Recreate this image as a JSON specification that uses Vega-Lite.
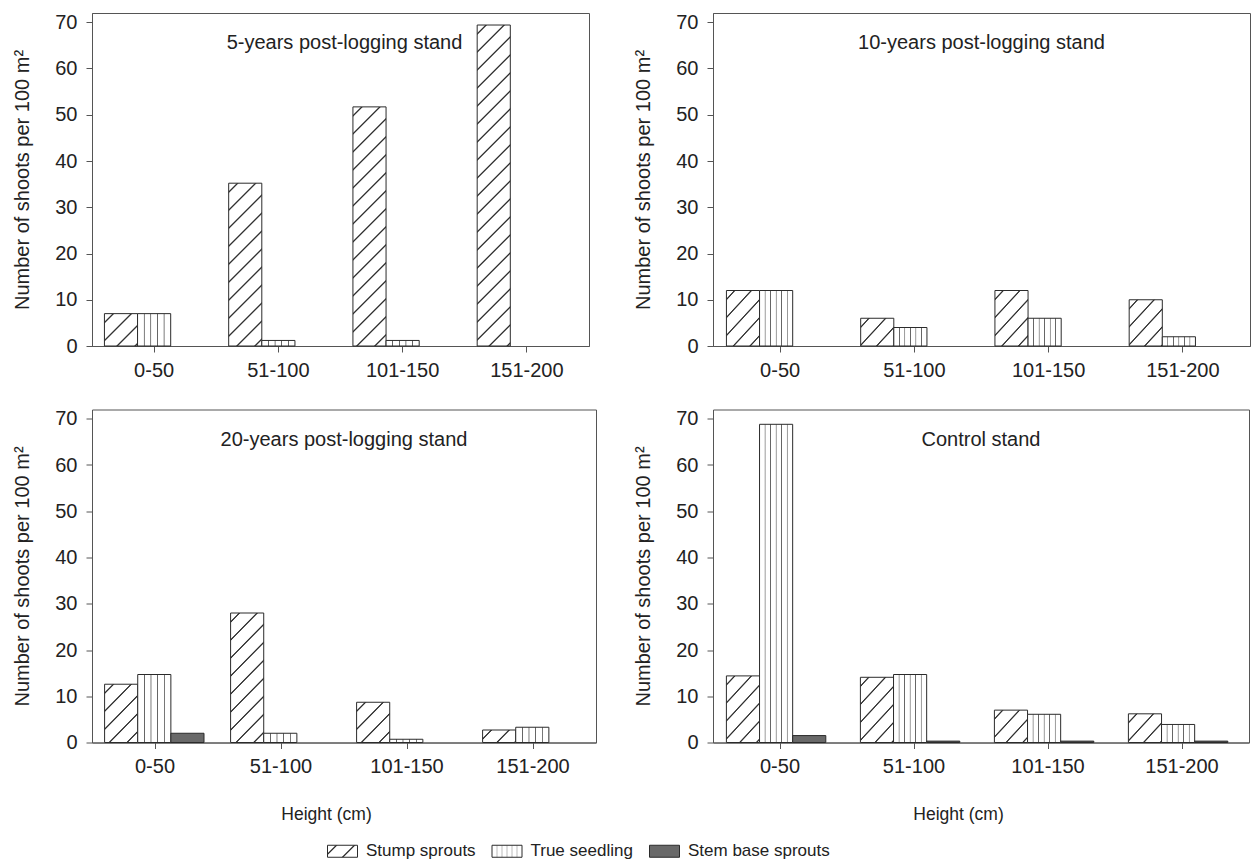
{
  "$schema": "https://vega.github.io/schema/vega-lite/v6.json",
  "padding": {"left": 12, "top": 11, "right": 0, "bottom": 0},
  "autosize": {"type": "pad"},
  "background": "white",
  "params": [
    {"name": "diagStops", "value": [
      {"offset": 0, "color": "#ffffff"},
      {"offset": 0.01875, "color": "#ffffff"}, {"offset": 0.0215, "color": "#333333"}, {"offset": 0.0235, "color": "#333333"}, {"offset": 0.02625, "color": "#ffffff"},
      {"offset": 0.06375, "color": "#ffffff"}, {"offset": 0.0665, "color": "#333333"}, {"offset": 0.0685, "color": "#333333"}, {"offset": 0.07125, "color": "#ffffff"},
      {"offset": 0.10875, "color": "#ffffff"}, {"offset": 0.1115, "color": "#333333"}, {"offset": 0.1135, "color": "#333333"}, {"offset": 0.11625, "color": "#ffffff"},
      {"offset": 0.15375, "color": "#ffffff"}, {"offset": 0.1565, "color": "#333333"}, {"offset": 0.1585, "color": "#333333"}, {"offset": 0.16125, "color": "#ffffff"},
      {"offset": 0.19875, "color": "#ffffff"}, {"offset": 0.2015, "color": "#333333"}, {"offset": 0.2035, "color": "#333333"}, {"offset": 0.20625, "color": "#ffffff"},
      {"offset": 0.24375, "color": "#ffffff"}, {"offset": 0.2465, "color": "#333333"}, {"offset": 0.2485, "color": "#333333"}, {"offset": 0.25125, "color": "#ffffff"},
      {"offset": 0.28875, "color": "#ffffff"}, {"offset": 0.2915, "color": "#333333"}, {"offset": 0.2935, "color": "#333333"}, {"offset": 0.29625, "color": "#ffffff"},
      {"offset": 0.33375, "color": "#ffffff"}, {"offset": 0.3365, "color": "#333333"}, {"offset": 0.3385, "color": "#333333"}, {"offset": 0.34125, "color": "#ffffff"},
      {"offset": 0.37875, "color": "#ffffff"}, {"offset": 0.3815, "color": "#333333"}, {"offset": 0.3835, "color": "#333333"}, {"offset": 0.38625, "color": "#ffffff"},
      {"offset": 0.42375, "color": "#ffffff"}, {"offset": 0.4265, "color": "#333333"}, {"offset": 0.4285, "color": "#333333"}, {"offset": 0.43125, "color": "#ffffff"},
      {"offset": 0.46875, "color": "#ffffff"}, {"offset": 0.4715, "color": "#333333"}, {"offset": 0.4735, "color": "#333333"}, {"offset": 0.47625, "color": "#ffffff"},
      {"offset": 0.51375, "color": "#ffffff"}, {"offset": 0.5165, "color": "#333333"}, {"offset": 0.5185, "color": "#333333"}, {"offset": 0.52125, "color": "#ffffff"},
      {"offset": 0.55875, "color": "#ffffff"}, {"offset": 0.5615, "color": "#333333"}, {"offset": 0.5635, "color": "#333333"}, {"offset": 0.56625, "color": "#ffffff"},
      {"offset": 0.60375, "color": "#ffffff"}, {"offset": 0.6065, "color": "#333333"}, {"offset": 0.6085, "color": "#333333"}, {"offset": 0.61125, "color": "#ffffff"},
      {"offset": 0.64875, "color": "#ffffff"}, {"offset": 0.6515, "color": "#333333"}, {"offset": 0.6535, "color": "#333333"}, {"offset": 0.65625, "color": "#ffffff"},
      {"offset": 0.69375, "color": "#ffffff"}, {"offset": 0.6965, "color": "#333333"}, {"offset": 0.6985, "color": "#333333"}, {"offset": 0.70125, "color": "#ffffff"},
      {"offset": 0.73875, "color": "#ffffff"}, {"offset": 0.7415, "color": "#333333"}, {"offset": 0.7435, "color": "#333333"}, {"offset": 0.74625, "color": "#ffffff"},
      {"offset": 0.78375, "color": "#ffffff"}, {"offset": 0.7865, "color": "#333333"}, {"offset": 0.7885, "color": "#333333"}, {"offset": 0.79125, "color": "#ffffff"},
      {"offset": 0.82875, "color": "#ffffff"}, {"offset": 0.8315, "color": "#333333"}, {"offset": 0.8335, "color": "#333333"}, {"offset": 0.83625, "color": "#ffffff"},
      {"offset": 0.87375, "color": "#ffffff"}, {"offset": 0.8765, "color": "#333333"}, {"offset": 0.8785, "color": "#333333"}, {"offset": 0.88125, "color": "#ffffff"},
      {"offset": 0.91875, "color": "#ffffff"}, {"offset": 0.9215, "color": "#333333"}, {"offset": 0.9235, "color": "#333333"}, {"offset": 0.92625, "color": "#ffffff"},
      {"offset": 0.96375, "color": "#ffffff"}, {"offset": 0.9665, "color": "#333333"}, {"offset": 0.9685, "color": "#333333"}, {"offset": 0.97125, "color": "#ffffff"},
      {"offset": 1, "color": "#ffffff"}
    ]},
    {"name": "v5", "value": [
      {"offset": 0, "color": "#ffffff"},
      {"offset": 0.178, "color": "#ffffff"}, {"offset": 0.194, "color": "#666666"}, {"offset": 0.206, "color": "#666666"}, {"offset": 0.222, "color": "#ffffff"},
      {"offset": 0.378, "color": "#ffffff"}, {"offset": 0.394, "color": "#666666"}, {"offset": 0.406, "color": "#666666"}, {"offset": 0.422, "color": "#ffffff"},
      {"offset": 0.578, "color": "#ffffff"}, {"offset": 0.594, "color": "#666666"}, {"offset": 0.606, "color": "#666666"}, {"offset": 0.622, "color": "#ffffff"},
      {"offset": 0.778, "color": "#ffffff"}, {"offset": 0.794, "color": "#666666"}, {"offset": 0.806, "color": "#666666"}, {"offset": 0.822, "color": "#ffffff"},
      {"offset": 1, "color": "#ffffff"}
    ]},
    {"name": "v6", "value": [
      {"offset": 0, "color": "#ffffff"},
      {"offset": 0.1467, "color": "#ffffff"}, {"offset": 0.1617, "color": "#666666"}, {"offset": 0.1717, "color": "#666666"}, {"offset": 0.1867, "color": "#ffffff"},
      {"offset": 0.3133, "color": "#ffffff"}, {"offset": 0.3283, "color": "#666666"}, {"offset": 0.3383, "color": "#666666"}, {"offset": 0.3533, "color": "#ffffff"},
      {"offset": 0.48, "color": "#ffffff"}, {"offset": 0.495, "color": "#666666"}, {"offset": 0.505, "color": "#666666"}, {"offset": 0.52, "color": "#ffffff"},
      {"offset": 0.6467, "color": "#ffffff"}, {"offset": 0.6617, "color": "#666666"}, {"offset": 0.6717, "color": "#666666"}, {"offset": 0.6867, "color": "#ffffff"},
      {"offset": 0.8133, "color": "#ffffff"}, {"offset": 0.8283, "color": "#666666"}, {"offset": 0.8383, "color": "#666666"}, {"offset": 0.8533, "color": "#ffffff"},
      {"offset": 1, "color": "#ffffff"}
    ]}
  ],
  "data": {"values": [
    {"panel": "TL", "height": "0-50", "series": "Stump sprouts", "value": 7.0},
    {"panel": "TL", "height": "0-50", "series": "True seedling", "value": 7.0},
    {"panel": "TL", "height": "51-100", "series": "Stump sprouts", "value": 35.2},
    {"panel": "TL", "height": "51-100", "series": "True seedling", "value": 1.2},
    {"panel": "TL", "height": "101-150", "series": "Stump sprouts", "value": 51.7},
    {"panel": "TL", "height": "101-150", "series": "True seedling", "value": 1.2},
    {"panel": "TL", "height": "151-200", "series": "Stump sprouts", "value": 69.4},
    {"panel": "TR", "height": "0-50", "series": "Stump sprouts", "value": 12.0},
    {"panel": "TR", "height": "0-50", "series": "True seedling", "value": 12.0},
    {"panel": "TR", "height": "51-100", "series": "Stump sprouts", "value": 6.0},
    {"panel": "TR", "height": "51-100", "series": "True seedling", "value": 4.0},
    {"panel": "TR", "height": "101-150", "series": "Stump sprouts", "value": 12.0},
    {"panel": "TR", "height": "101-150", "series": "True seedling", "value": 6.0},
    {"panel": "TR", "height": "151-200", "series": "Stump sprouts", "value": 10.0},
    {"panel": "TR", "height": "151-200", "series": "True seedling", "value": 2.0},
    {"panel": "BL", "height": "0-50", "series": "Stump sprouts", "value": 12.6},
    {"panel": "BL", "height": "0-50", "series": "True seedling", "value": 14.7},
    {"panel": "BL", "height": "0-50", "series": "Stem base sprouts", "value": 2.0},
    {"panel": "BL", "height": "51-100", "series": "Stump sprouts", "value": 28.0},
    {"panel": "BL", "height": "51-100", "series": "True seedling", "value": 2.0},
    {"panel": "BL", "height": "101-150", "series": "Stump sprouts", "value": 8.7},
    {"panel": "BL", "height": "101-150", "series": "True seedling", "value": 0.7},
    {"panel": "BL", "height": "151-200", "series": "Stump sprouts", "value": 2.7},
    {"panel": "BL", "height": "151-200", "series": "True seedling", "value": 3.3},
    {"panel": "BR", "height": "0-50", "series": "Stump sprouts", "value": 14.4},
    {"panel": "BR", "height": "0-50", "series": "True seedling", "value": 68.8},
    {"panel": "BR", "height": "0-50", "series": "Stem base sprouts", "value": 1.5},
    {"panel": "BR", "height": "51-100", "series": "Stump sprouts", "value": 14.1},
    {"panel": "BR", "height": "51-100", "series": "True seedling", "value": 14.7},
    {"panel": "BR", "height": "51-100", "series": "Stem base sprouts", "value": 0.3},
    {"panel": "BR", "height": "101-150", "series": "Stump sprouts", "value": 7.0},
    {"panel": "BR", "height": "101-150", "series": "True seedling", "value": 6.1},
    {"panel": "BR", "height": "101-150", "series": "Stem base sprouts", "value": 0.3},
    {"panel": "BR", "height": "151-200", "series": "Stump sprouts", "value": 6.2},
    {"panel": "BR", "height": "151-200", "series": "True seedling", "value": 3.9},
    {"panel": "BR", "height": "151-200", "series": "Stem base sprouts", "value": 0.3}
  ]},
  "config": {
    "font": "Liberation Sans",
    "view": {"stroke": "#555555", "strokeWidth": 1},
    "axis": {"domainColor": "#555555", "tickColor": "#555555", "labelColor": "#222222", "titleColor": "#222222", "labelFont": "Liberation Sans", "titleFont": "Liberation Sans", "labelFontSize": 20, "titleFontSize": 20, "titleFontWeight": "normal", "tickSize": 6, "grid": false},
    "axisY": {"labelPadding": 9, "titlePadding": 22},
    "axisX": {"labelPadding": 8, "labelAngle": 0, "titleFontSize": 17.5, "titlePadding": 29},
    "title": {"fontWeight": "normal", "fontSize": 20, "color": "#222222", "font": "Liberation Sans"}
  },
  "spacing": 26.5,
  "vconcat": [
    {
      "spacing": 43,
      "hconcat": [
        {
          "width": 497, "height": 333,
          "title": {"text": "5-years post-logging stand", "anchor": "middle", "frame": "group", "offset": -57, "baseline": "alphabetic", "dx": 4},
          "transform": [{"filter": "datum.panel === 'TL'"}],
          "mark": {"type": "bar", "strokeWidth": 1, "fill": {"expr": "datum.series === 'Stump sprouts' ? {gradient: 'linear', x1: 0, y1: 0, x2: 400*33.13/(33.13*33.13 + pow(datum.value*4.625, 2)), y2: 400*datum.value*4.625/(33.13*33.13 + pow(datum.value*4.625, 2)), stops: diagStops} : datum.series === 'True seedling' ? {gradient: 'linear', x1: 0, y1: 0, x2: 1, y2: 0, stops: v5} : '#696969'"}},
          "encoding": {
            "x": {"field": "height", "type": "nominal", "sort": ["0-50", "51-100", "101-150", "151-200"], "scale": {"paddingInner": 0.2, "paddingOuter": 0.1}, "axis": {"title": null}},
            "xOffset": {"field": "series", "type": "nominal", "scale": {"domain": ["Stump sprouts", "True seedling", "Stem base sprouts"], "paddingInner": 0, "paddingOuter": 0}},
            "y": {"field": "value", "type": "quantitative", "scale": {"domain": [0, 72], "nice": false}, "axis": {"title": "Number of shoots per 100 m²", "values": [0, 10, 20, 30, 40, 50, 60, 70]}},
            "stroke": {"field": "series", "type": "nominal", "scale": {"domain": ["Stump sprouts", "True seedling", "Stem base sprouts"], "range": ["#2b2b2b", "#2b2b2b", "#2b2b2b"]},
              "legend": {"orient": "none", "legendX": 235, "legendY": 822.5, "direction": "horizontal", "title": null, "symbolType": "M-1,-0.4H1V0.4H-1Z", "symbolSize": 900, "symbolStrokeWidth": 1, "labelFontSize": 17, "labelFont": "Liberation Sans", "labelColor": "#222222", "labelOffset": 8, "columnPadding": 13.5, "padding": 0,
                "encoding": {"symbols": {"fill": {"value": {"expr": "datum.value === 'Stump sprouts' ? {gradient: 'linear', x1: 0, y1: 0, x2: 11.494, y2: 4.598, stops: diagStops} : datum.value === 'True seedling' ? {gradient: 'linear', x1: 0, y1: 0, x2: 1, y2: 0, stops: v6} : '#696969'"}}, "stroke": {"value": "#2b2b2b"}, "opacity": {"value": 1}}}}}
          }
        },
        {
          "width": 537, "height": 333,
          "title": {"text": "10-years post-logging stand", "anchor": "middle", "frame": "group", "offset": -57, "baseline": "alphabetic"},
          "transform": [{"filter": "datum.panel === 'TR'"}],
          "mark": {"type": "bar", "strokeWidth": 1, "fill": {"expr": "datum.series === 'Stump sprouts' ? {gradient: 'linear', x1: 0, y1: 0, x2: 400*35.8/(35.8*35.8 + pow(datum.value*4.625, 2)), y2: 400*datum.value*4.625/(35.8*35.8 + pow(datum.value*4.625, 2)), stops: diagStops} : datum.series === 'True seedling' ? {gradient: 'linear', x1: 0, y1: 0, x2: 1, y2: 0, stops: v6} : '#696969'"}},
          "encoding": {
            "x": {"field": "height", "type": "nominal", "sort": ["0-50", "51-100", "101-150", "151-200"], "scale": {"paddingInner": 0.2, "paddingOuter": 0.1}, "axis": {"title": null}},
            "xOffset": {"field": "series", "type": "nominal", "scale": {"domain": ["Stump sprouts", "True seedling", "Stem base sprouts"], "paddingInner": 0, "paddingOuter": 0}},
            "y": {"field": "value", "type": "quantitative", "scale": {"domain": [0, 72], "nice": false}, "axis": {"title": "Number of shoots per 100 m²", "values": [0, 10, 20, 30, 40, 50, 60, 70]}},
            "stroke": {"field": "series", "type": "nominal", "scale": {"domain": ["Stump sprouts", "True seedling", "Stem base sprouts"], "range": ["#2b2b2b", "#2b2b2b", "#2b2b2b"]},
              "legend": {"orient": "none", "legendX": 235, "legendY": 822.5, "direction": "horizontal", "title": null, "symbolType": "M-1,-0.4H1V0.4H-1Z", "symbolSize": 900, "symbolStrokeWidth": 1, "labelFontSize": 17, "labelFont": "Liberation Sans", "labelColor": "#222222", "labelOffset": 8, "columnPadding": 13.5, "padding": 0,
                "encoding": {"symbols": {"fill": {"value": {"expr": "datum.value === 'Stump sprouts' ? {gradient: 'linear', x1: 0, y1: 0, x2: 11.494, y2: 4.598, stops: diagStops} : datum.value === 'True seedling' ? {gradient: 'linear', x1: 0, y1: 0, x2: 1, y2: 0, stops: v6} : '#696969'"}}, "stroke": {"value": "#2b2b2b"}, "opacity": {"value": 1}}}}}
          }
        }
      ]
    },
    {
      "spacing": 36,
      "hconcat": [
        {
          "width": 504, "height": 333,
          "title": {"text": "20-years post-logging stand", "anchor": "middle", "frame": "group", "offset": -57, "baseline": "alphabetic"},
          "transform": [{"filter": "datum.panel === 'BL'"}],
          "mark": {"type": "bar", "strokeWidth": 1, "fill": {"expr": "datum.series === 'Stump sprouts' ? {gradient: 'linear', x1: 0, y1: 0, x2: 400*33.6/(33.6*33.6 + pow(datum.value*4.625, 2)), y2: 400*datum.value*4.625/(33.6*33.6 + pow(datum.value*4.625, 2)), stops: diagStops} : datum.series === 'True seedling' ? {gradient: 'linear', x1: 0, y1: 0, x2: 1, y2: 0, stops: v5} : '#696969'"}},
          "encoding": {
            "x": {"field": "height", "type": "nominal", "sort": ["0-50", "51-100", "101-150", "151-200"], "scale": {"paddingInner": 0.2, "paddingOuter": 0.1}, "axis": {"title": "Height (cm)", "titleX": 234}},
            "xOffset": {"field": "series", "type": "nominal", "scale": {"domain": ["Stump sprouts", "True seedling", "Stem base sprouts"], "paddingInner": 0, "paddingOuter": 0}},
            "y": {"field": "value", "type": "quantitative", "scale": {"domain": [0, 72], "nice": false}, "axis": {"title": "Number of shoots per 100 m²", "values": [0, 10, 20, 30, 40, 50, 60, 70]}},
            "stroke": {"field": "series", "type": "nominal", "scale": {"domain": ["Stump sprouts", "True seedling", "Stem base sprouts"], "range": ["#2b2b2b", "#2b2b2b", "#2b2b2b"]},
              "legend": {"orient": "none", "legendX": 235, "legendY": 822.5, "direction": "horizontal", "title": null, "symbolType": "M-1,-0.4H1V0.4H-1Z", "symbolSize": 900, "symbolStrokeWidth": 1, "labelFontSize": 17, "labelFont": "Liberation Sans", "labelColor": "#222222", "labelOffset": 8, "columnPadding": 13.5, "padding": 0,
                "encoding": {"symbols": {"fill": {"value": {"expr": "datum.value === 'Stump sprouts' ? {gradient: 'linear', x1: 0, y1: 0, x2: 11.494, y2: 4.598, stops: diagStops} : datum.value === 'True seedling' ? {gradient: 'linear', x1: 0, y1: 0, x2: 1, y2: 0, stops: v6} : '#696969'"}}, "stroke": {"value": "#2b2b2b"}, "opacity": {"value": 1}}}}}
          }
        },
        {
          "width": 536, "height": 333,
          "title": {"text": "Control stand", "anchor": "middle", "frame": "group", "offset": -57, "baseline": "alphabetic"},
          "transform": [{"filter": "datum.panel === 'BR'"}],
          "mark": {"type": "bar", "strokeWidth": 1, "fill": {"expr": "datum.series === 'Stump sprouts' ? {gradient: 'linear', x1: 0, y1: 0, x2: 400*35.73/(35.73*35.73 + pow(datum.value*4.625, 2)), y2: 400*datum.value*4.625/(35.73*35.73 + pow(datum.value*4.625, 2)), stops: diagStops} : datum.series === 'True seedling' ? {gradient: 'linear', x1: 0, y1: 0, x2: 1, y2: 0, stops: v6} : '#696969'"}},
          "encoding": {
            "x": {"field": "height", "type": "nominal", "sort": ["0-50", "51-100", "101-150", "151-200"], "scale": {"paddingInner": 0.2, "paddingOuter": 0.1}, "axis": {"title": "Height (cm)", "titleX": 245}},
            "xOffset": {"field": "series", "type": "nominal", "scale": {"domain": ["Stump sprouts", "True seedling", "Stem base sprouts"], "paddingInner": 0, "paddingOuter": 0}},
            "y": {"field": "value", "type": "quantitative", "scale": {"domain": [0, 72], "nice": false}, "axis": {"title": "Number of shoots per 100 m²", "values": [0, 10, 20, 30, 40, 50, 60, 70]}},
            "stroke": {"field": "series", "type": "nominal", "scale": {"domain": ["Stump sprouts", "True seedling", "Stem base sprouts"], "range": ["#2b2b2b", "#2b2b2b", "#2b2b2b"]},
              "legend": {"orient": "none", "legendX": 235, "legendY": 822.5, "direction": "horizontal", "title": null, "symbolType": "M-1,-0.4H1V0.4H-1Z", "symbolSize": 900, "symbolStrokeWidth": 1, "labelFontSize": 17, "labelFont": "Liberation Sans", "labelColor": "#222222", "labelOffset": 8, "columnPadding": 13.5, "padding": 0,
                "encoding": {"symbols": {"fill": {"value": {"expr": "datum.value === 'Stump sprouts' ? {gradient: 'linear', x1: 0, y1: 0, x2: 11.494, y2: 4.598, stops: diagStops} : datum.value === 'True seedling' ? {gradient: 'linear', x1: 0, y1: 0, x2: 1, y2: 0, stops: v6} : '#696969'"}}, "stroke": {"value": "#2b2b2b"}, "opacity": {"value": 1}}}}}
          }
        }
      ]
    }
  ]
}
